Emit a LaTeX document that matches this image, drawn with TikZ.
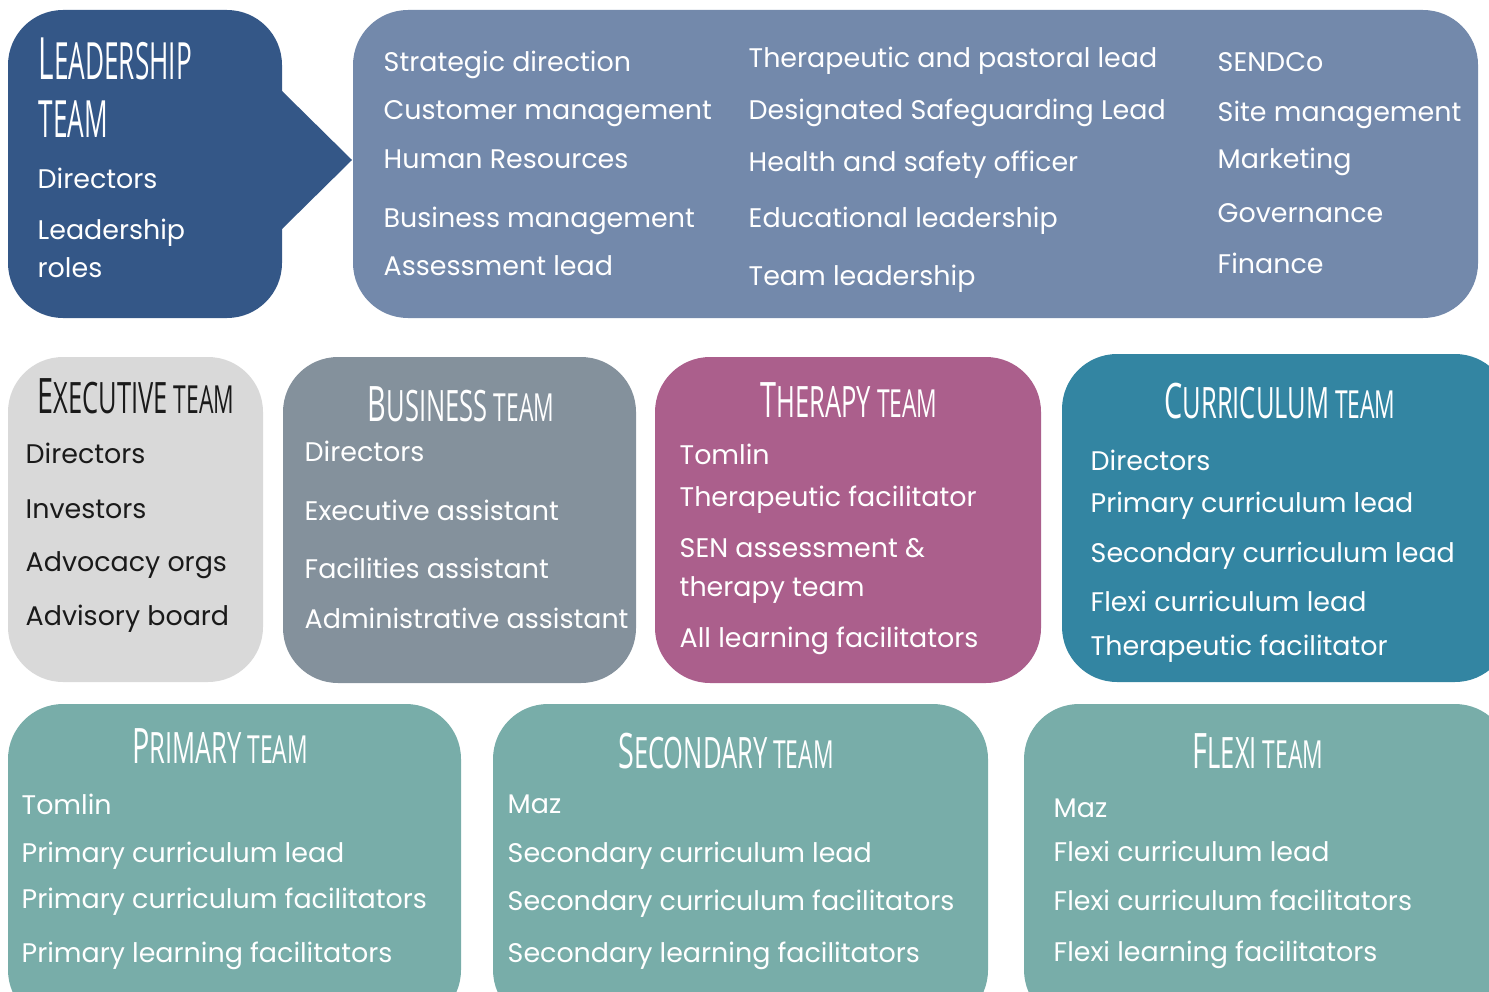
\documentclass[tikz,border=0pt]{standalone}
\usepackage{fontspec}
\setmainfont{Poppins}
\newfontfamily\ttlfont[FakeStretch=0.59]{Open Sans}
\newfontfamily\leadfont[FakeStretch=0.51]{Open Sans}
\usepackage{xcolor}
\usetikzlibrary{positioning}

\definecolor{leadblue}{HTML}{345787}
\definecolor{rolesblue}{HTML}{7389AB}
\definecolor{execgray}{HTML}{D9D9D9}
\definecolor{busgray}{HTML}{84919C}
\definecolor{therpink}{HTML}{AB5F8C}
\definecolor{currteal}{HTML}{3385A2}
\definecolor{teamgreen}{HTML}{78ADA9}
\definecolor{darktext}{HTML}{1A1A1A}

\newcommand\tcap[3]{{\fontsize{13.9}{14}\selectfont #1}{\fontsize{12.3}{13}\selectfont #2}{\fontsize{11}{12}\selectfont\ #3}}

\begin{document}
\begin{tikzpicture}[x=0.01cm, y=-0.01cm,
    panel/.style={rounded corners=0.55cm},
    item/.style={anchor=base west, inner sep=0pt, text=white, font=\fontsize{7.65}{9}\selectfont},
    head/.style={anchor=base, inner sep=0pt, text=white, font=\ttlfont}]
    \useasboundingbox (0,0) rectangle (1489,991);

    % top row: leadership and its roles
    \fill[leadblue, panel] (8,10) rectangle (282,318);
    \fill[leadblue] (281,90) -- (352,160) -- (281,230) -- cycle;
    \fill[rolesblue, panel] (353,10) rectangle (1478,318);

    \node[head, anchor=base west, font=\leadfont] (leadT1) at (38,80) {{\fontsize{16.6}{17}\selectfont L}{\fontsize{14.6}{15}\selectfont EADERSHIP}};
    \node[head, anchor=base west, font=\leadfont] (leadT2) at (38,137) {\fontsize{14.6}{15}\selectfont TEAM};
    \node[item] (lead1) at (37,188) {Directors};
    \node[item] (lead2) at (37,239) {Leadership};
    \node[item] (lead3) at (37,277) {roles};

    \node[item] (roleA1) at (383,72) {Strategic direction};
    \node[item] (roleA2) at (383,120) {Customer management};
    \node[item] (roleA3) at (383,168) {Human Resources};
    \node[item] (roleA4) at (383,227) {Business management};
    \node[item] (roleA5) at (383,275) {Assessment lead};
    \node[item] (roleB1) at (748,68) {Therapeutic and pastoral lead};
    \node[item] (roleB2) at (748,120) {Designated Safeguarding Lead};
    \node[item] (roleB3) at (748,172) {Health and safety officer};
    \node[item] (roleB4) at (748,227) {Educational leadership};
    \node[item] (roleB5) at (748,285) {Team leadership};
    \node[item] (roleC1) at (1217,72) {SENDCo};
    \node[item] (roleC2) at (1217,122) {Site management};
    \node[item] (roleC3) at (1217,168) {Marketing};
    \node[item] (roleC4) at (1217,222) {Governance};
    \node[item] (roleC5) at (1217,273) {Finance};

    % middle row
    \fill[execgray, panel] (8,357) rectangle (263,682);
    \fill[busgray, panel] (283,357) rectangle (636,683);
    \fill[therpink, panel] (655,357) rectangle (1041,683);
    \fill[currteal, panel] (1062,354) rectangle (1510,682);

    \node[head, text=darktext] (execT) at (136,413) {\tcap{E}{XECUTIVE}{TEAM}};
    \node[item, text=darktext] (exec1) at (25,463) {Directors};
    \node[item, text=darktext] (exec2) at (25,518) {Investors};
    \node[item, text=darktext] (exec3) at (25,571) {Advocacy orgs};
    \node[item, text=darktext] (exec4) at (25,625) {Advisory board};

    \node[head] (busT) at (461,421) {\tcap{B}{USINESS}{TEAM}};
    \node[item] (bus1) at (304,461) {Directors};
    \node[item] (bus2) at (304,520) {Executive assistant};
    \node[item] (bus3) at (304,578) {Facilities assistant};
    \node[item] (bus4) at (304,628) {Administrative assistant};

    \node[head] (therT) at (849,417) {\tcap{T}{HERAPY}{TEAM}};
    \node[item] (ther1) at (679,464) {Tomlin};
    \node[item] (ther2) at (679,506) {Therapeutic facilitator};
    \node[item] (ther3) at (679,557) {SEN assessment \&};
    \node[item] (ther4) at (679,596) {therapy team};
    \node[item] (ther5) at (679,647) {All learning facilitators};

    \node[head] (currT) at (1280,418) {\tcap{C}{URRICULUM}{TEAM}};
    \node[item] (curr1) at (1090,470) {Directors};
    \node[item] (curr2) at (1090,512) {Primary curriculum lead};
    \node[item] (curr3) at (1090,562) {Secondary curriculum lead};
    \node[item] (curr4) at (1090,611) {Flexi curriculum lead};
    \node[item] (curr5) at (1090,655) {Therapeutic facilitator};

    % bottom row
    \fill[teamgreen, panel] (8,704) rectangle (461,1025);
    \fill[teamgreen, panel] (493,704) rectangle (988,1025);
    \fill[teamgreen, panel] (1024,704) rectangle (1510,1025);

    \node[head] (primT) at (220,763) {\tcap{P}{RIMARY}{TEAM}};
    \node[item] (prim1) at (21,814) {Tomlin};
    \node[item] (prim2) at (21,862) {Primary curriculum lead};
    \node[item] (prim3) at (21,908) {Primary curriculum facilitators};
    \node[item] (prim4) at (21,962) {Primary learning facilitators};

    \node[head] (secT) at (726,768) {\tcap{S}{ECONDARY}{TEAM}};
    \node[item] (sec1) at (507,813) {Maz};
    \node[item] (sec2) at (507,862) {Secondary curriculum lead};
    \node[item] (sec3) at (507,910) {Secondary curriculum facilitators};
    \node[item] (sec4) at (507,962) {Secondary learning facilitators};

    \node[head] (flexT) at (1258,768) {\tcap{F}{LEXI}{TEAM}};
    \node[item] (flex1) at (1053,817) {Maz};
    \node[item] (flex2) at (1053,861) {Flexi curriculum lead};
    \node[item] (flex3) at (1053,910) {Flexi curriculum facilitators};
    \node[item] (flex4) at (1053,961) {Flexi learning facilitators};
\end{tikzpicture}
\end{document}
